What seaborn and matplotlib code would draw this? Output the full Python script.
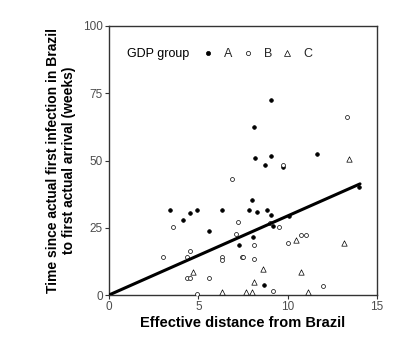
import matplotlib
matplotlib.use("Agg")
import matplotlib.pyplot as plt
import seaborn as sns
import numpy as np
import pandas as pd
from matplotlib.lines import Line2D

# ---- data ----
a_x = [3.42, 4.13, 4.54, 4.94, 5.61, 6.30, 7.28, 7.84, 8.00, 8.06, 8.29, 8.66,
       8.73, 8.86, 9.05, 9.18, 9.05, 8.16, 8.10, 9.05, 9.73, 10.05, 11.63, 14.0]
a_y = [31.5, 27.7, 30.5, 31.5, 23.7, 31.5, 18.7, 31.5, 35.5, 21.6, 30.7, 3.8,
       48.5, 31.5, 29.8, 25.7, 51.5, 51.0, 62.5, 72.5, 47.5, 29.4, 52.5, 40.0]

b_x = [13.33, 6.86, 9.73, 8.99, 9.51, 7.23, 7.10, 8.10, 7.42, 7.51, 8.14, 10.01,
       10.74, 11.00, 9.16, 12.00, 3.61, 3.02, 4.54, 4.39, 4.35, 4.54, 5.61, 4.93,
       6.32, 6.32]
b_y = [66.0, 43.2, 48.5, 26.6, 25.3, 27.2, 22.5, 18.5, 14.2, 14.2, 13.2, 19.2,
       22.3, 22.3, 1.6, 3.4, 25.2, 14.2, 16.4, 14.2, 6.4, 6.4, 6.4, 0.5,
       14.3, 13.0]

c_x = [13.45, 13.17, 10.76, 10.44, 8.62, 8.12, 7.64, 8.01, 11.13, 4.72, 6.30]
c_y = [50.6, 19.5, 8.6, 20.6, 9.5, 4.9, 1.0, 1.0, 1.0, 8.6, 1.0]

fit_slope = 2.94          # regression through the origin
fit_xmax = 14.05

groups = ["A", "B", "C"]
x_ticks = [0, 5, 10, 15]
y_ticks = [0, 25, 50, 75, 100]

df = pd.DataFrame({
    "x": a_x + b_x + c_x,
    "y": a_y + b_y + c_y,
    "group": ["A"] * len(a_x) + ["B"] * len(b_x) + ["C"] * len(c_x),
})

sns.set_theme(style="white")
plt.rcParams["font.family"] = ["Liberation Sans", "DejaVu Sans"]

W, H = 406, 354
fig = plt.figure(figsize=(W / 100, H / 100), dpi=100)
L, R, T, B = 109, 377, 26, 295
ax = fig.add_axes([L / W, 1 - B / H, (R - L) / W, (B - T) / H])

styles = {
    "A": dict(marker="o", s=7, facecolor="black", edgecolor="black", linewidth=0.5),
    "B": dict(marker="o", s=8, facecolor="white", edgecolor="black", linewidth=0.5),
    "C": dict(marker="^", s=15, facecolor="white", edgecolor="black", linewidth=0.5),
}
for g in groups:
    sub = df[df["group"] == g]
    sns.scatterplot(data=sub, x="x", y="y", ax=ax, legend=False, zorder=3, **styles[g])

lx = np.array([0, fit_xmax])
sns.lineplot(x=lx, y=fit_slope * lx, ax=ax, color="black", linewidth=2.2, zorder=4)

ax.set_xlim(0, 15)
ax.set_ylim(0, 100)
ax.set_xticks(x_ticks)
ax.set_yticks(y_ticks)
ax.tick_params(axis="both", which="both", direction="out", length=3, width=0.8,
               color="#333333", labelcolor="#4d4d4d", labelsize=8.5, pad=1.5,
               left=True, bottom=True)
for sp in ax.spines.values():
    sp.set_color("#333333")
    sp.set_linewidth(1.0)

ax.set_xlabel("Effective distance from Brazil", fontsize=10.5, fontweight="bold",
              color="black", labelpad=2)
ax.set_ylabel("Time since actual first infection in Brazil\nto first actual arrival (weeks)",
              fontsize=10, fontweight="bold", color="black", labelpad=5, linespacing=1.15)

# legend
ax.text(0.066, 0.895, "GDP group", transform=ax.transAxes, fontsize=9,
        color="black", va="center", ha="left")
handles = [Line2D([], [], linestyle="none", **{
    "marker": styles[g]["marker"],
    "markersize": 3.0 if g != "C" else 4,
    "markerfacecolor": styles[g]["facecolor"],
    "markeredgecolor": "black",
    "markeredgewidth": 0.5}) for g in groups]
ax.legend(handles, groups, ncol=3, frameon=False, loc="center left",
          bbox_to_anchor=(0.355, 0.895), fontsize=9, handlelength=0.6,
          handletextpad=1.0, columnspacing=0.9, borderpad=0, borderaxespad=0)

fig.savefig("out.png", dpi=100, facecolor="white")
